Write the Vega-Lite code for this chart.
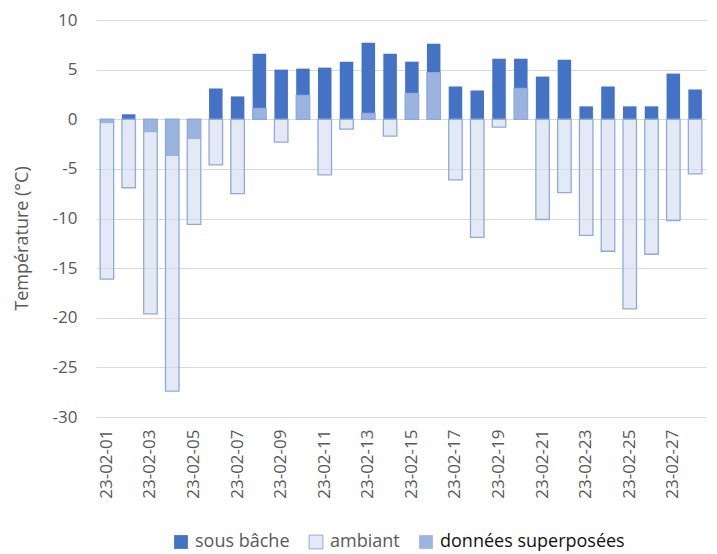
{
  "$schema": "https://vega.github.io/schema/vega-lite/v6.json",
  "autosize": "none",
  "padding": {"left": 96, "top": 20, "right": 0, "bottom": 137},
  "width": 621,
  "height": 397,
  "background": "#ffffff",
  "config": {"font": "Open Sans", "view": {"stroke": null}},
  "data": {"values": [
    {"date": "23-02-01", "sous": -0.4, "ambiant": -16.1},
    {"date": "23-02-02", "sous": 0.5, "ambiant": -6.9},
    {"date": "23-02-03", "sous": -1.3, "ambiant": -19.6},
    {"date": "23-02-04", "sous": -3.7, "ambiant": -27.4},
    {"date": "23-02-05", "sous": -2.0, "ambiant": -10.6},
    {"date": "23-02-06", "sous": 3.1, "ambiant": -4.6},
    {"date": "23-02-07", "sous": 2.3, "ambiant": -7.5},
    {"date": "23-02-08", "sous": 6.6, "ambiant": 1.1},
    {"date": "23-02-09", "sous": 5.0, "ambiant": -2.3},
    {"date": "23-02-10", "sous": 5.1, "ambiant": 2.4},
    {"date": "23-02-11", "sous": 5.2, "ambiant": -5.6},
    {"date": "23-02-12", "sous": 5.8, "ambiant": -1.0},
    {"date": "23-02-13", "sous": 7.7, "ambiant": 0.6},
    {"date": "23-02-14", "sous": 6.6, "ambiant": -1.7},
    {"date": "23-02-15", "sous": 5.8, "ambiant": 2.6},
    {"date": "23-02-16", "sous": 7.6, "ambiant": 4.7},
    {"date": "23-02-17", "sous": 3.3, "ambiant": -6.1},
    {"date": "23-02-18", "sous": 2.9, "ambiant": -11.9},
    {"date": "23-02-19", "sous": 6.1, "ambiant": -0.8},
    {"date": "23-02-20", "sous": 6.1, "ambiant": 3.1},
    {"date": "23-02-21", "sous": 4.3, "ambiant": -10.1},
    {"date": "23-02-22", "sous": 6.0, "ambiant": -7.4},
    {"date": "23-02-23", "sous": 1.3, "ambiant": -11.7},
    {"date": "23-02-24", "sous": 3.3, "ambiant": -13.3},
    {"date": "23-02-25", "sous": 1.3, "ambiant": -19.1},
    {"date": "23-02-26", "sous": 1.3, "ambiant": -13.6},
    {"date": "23-02-27", "sous": 4.6, "ambiant": -10.2},
    {"date": "23-02-28", "sous": 3.0, "ambiant": -5.5}
  ]},
  "encoding": {
    "x": {
      "field": "date", "type": "ordinal", "title": null,
      "scale": {"range": [0, 610], "paddingInner": 0.38, "paddingOuter": 0.19},
      "axis": {
        "values": ["23-02-01","23-02-03","23-02-05","23-02-07","23-02-09","23-02-11","23-02-13","23-02-15","23-02-17","23-02-19","23-02-21","23-02-23","23-02-25","23-02-27"],
        "labelAngle": -90, "labelFontSize": 17, "labelColor": "#595959",
        "ticks": false, "domain": false, "labelPadding": 12
      }
    }
  },
  "layer": [
    {
      "mark": {"type": "bar"},
      "encoding": {
        "y": {
          "field": "sous", "type": "quantitative",
          "scale": {"domain": [-30, 10], "nice": false},
          "axis": {
            "title": "Température (°C)",
            "values": [-30, -25, -20, -15, -10, -5, 0, 5, 10],
            "labelExpr": "'' + datum.value",
            "grid": true, "gridColor": "#D9D9D9", "gridWidth": 1.2,
            "domain": false, "ticks": false,
            "labelFontSize": 17, "labelColor": "#595959", "labelPadding": 19,
            "titleFontSize": 18, "titleFontWeight": "normal", "titleColor": "#595959",
            "titleX": -74, "titleY": 218, "titleAngle": -90, "titleAlign": "center", "titleBaseline": "middle"
          }
        },
        "color": {
          "datum": "sous bâche",
          "scale": {"domain": ["sous bâche", "ambiant", "données superposées"], "range": ["#4472C4", "#E2EAF7", "#9DB4E3"]},
          "legend": {
            "title": null, "orient": "none", "legendX": 76, "legendY": 513,
            "direction": "horizontal", "symbolType": "square", "symbolSize": 190,
            "labelFontSize": 18, "labelColor": "#595959", "labelOffset": 5, "columnPadding": 17,
            "labelLimit": 400,
            "symbolStrokeWidth": 1,
            "encode": {
              "symbols": {"update": {"stroke": {"signal": "datum.value === 'ambiant' ? '#8FAADC' : 'transparent'"}}},
              "labels": {"update": {"fill": {"signal": "datum.value === 'données superposées' ? '#111111' : '#595959'"}}}
            }
          }
        }
      }
    },
    {
      "mark": {"type": "bar", "fill": "#D1DCF0", "fillOpacity": 0.61, "stroke": "#8FAADC", "strokeWidth": 1.3},
      "encoding": {
        "y": {"field": "ambiant", "type": "quantitative"}
      }
    }
  ]
}
